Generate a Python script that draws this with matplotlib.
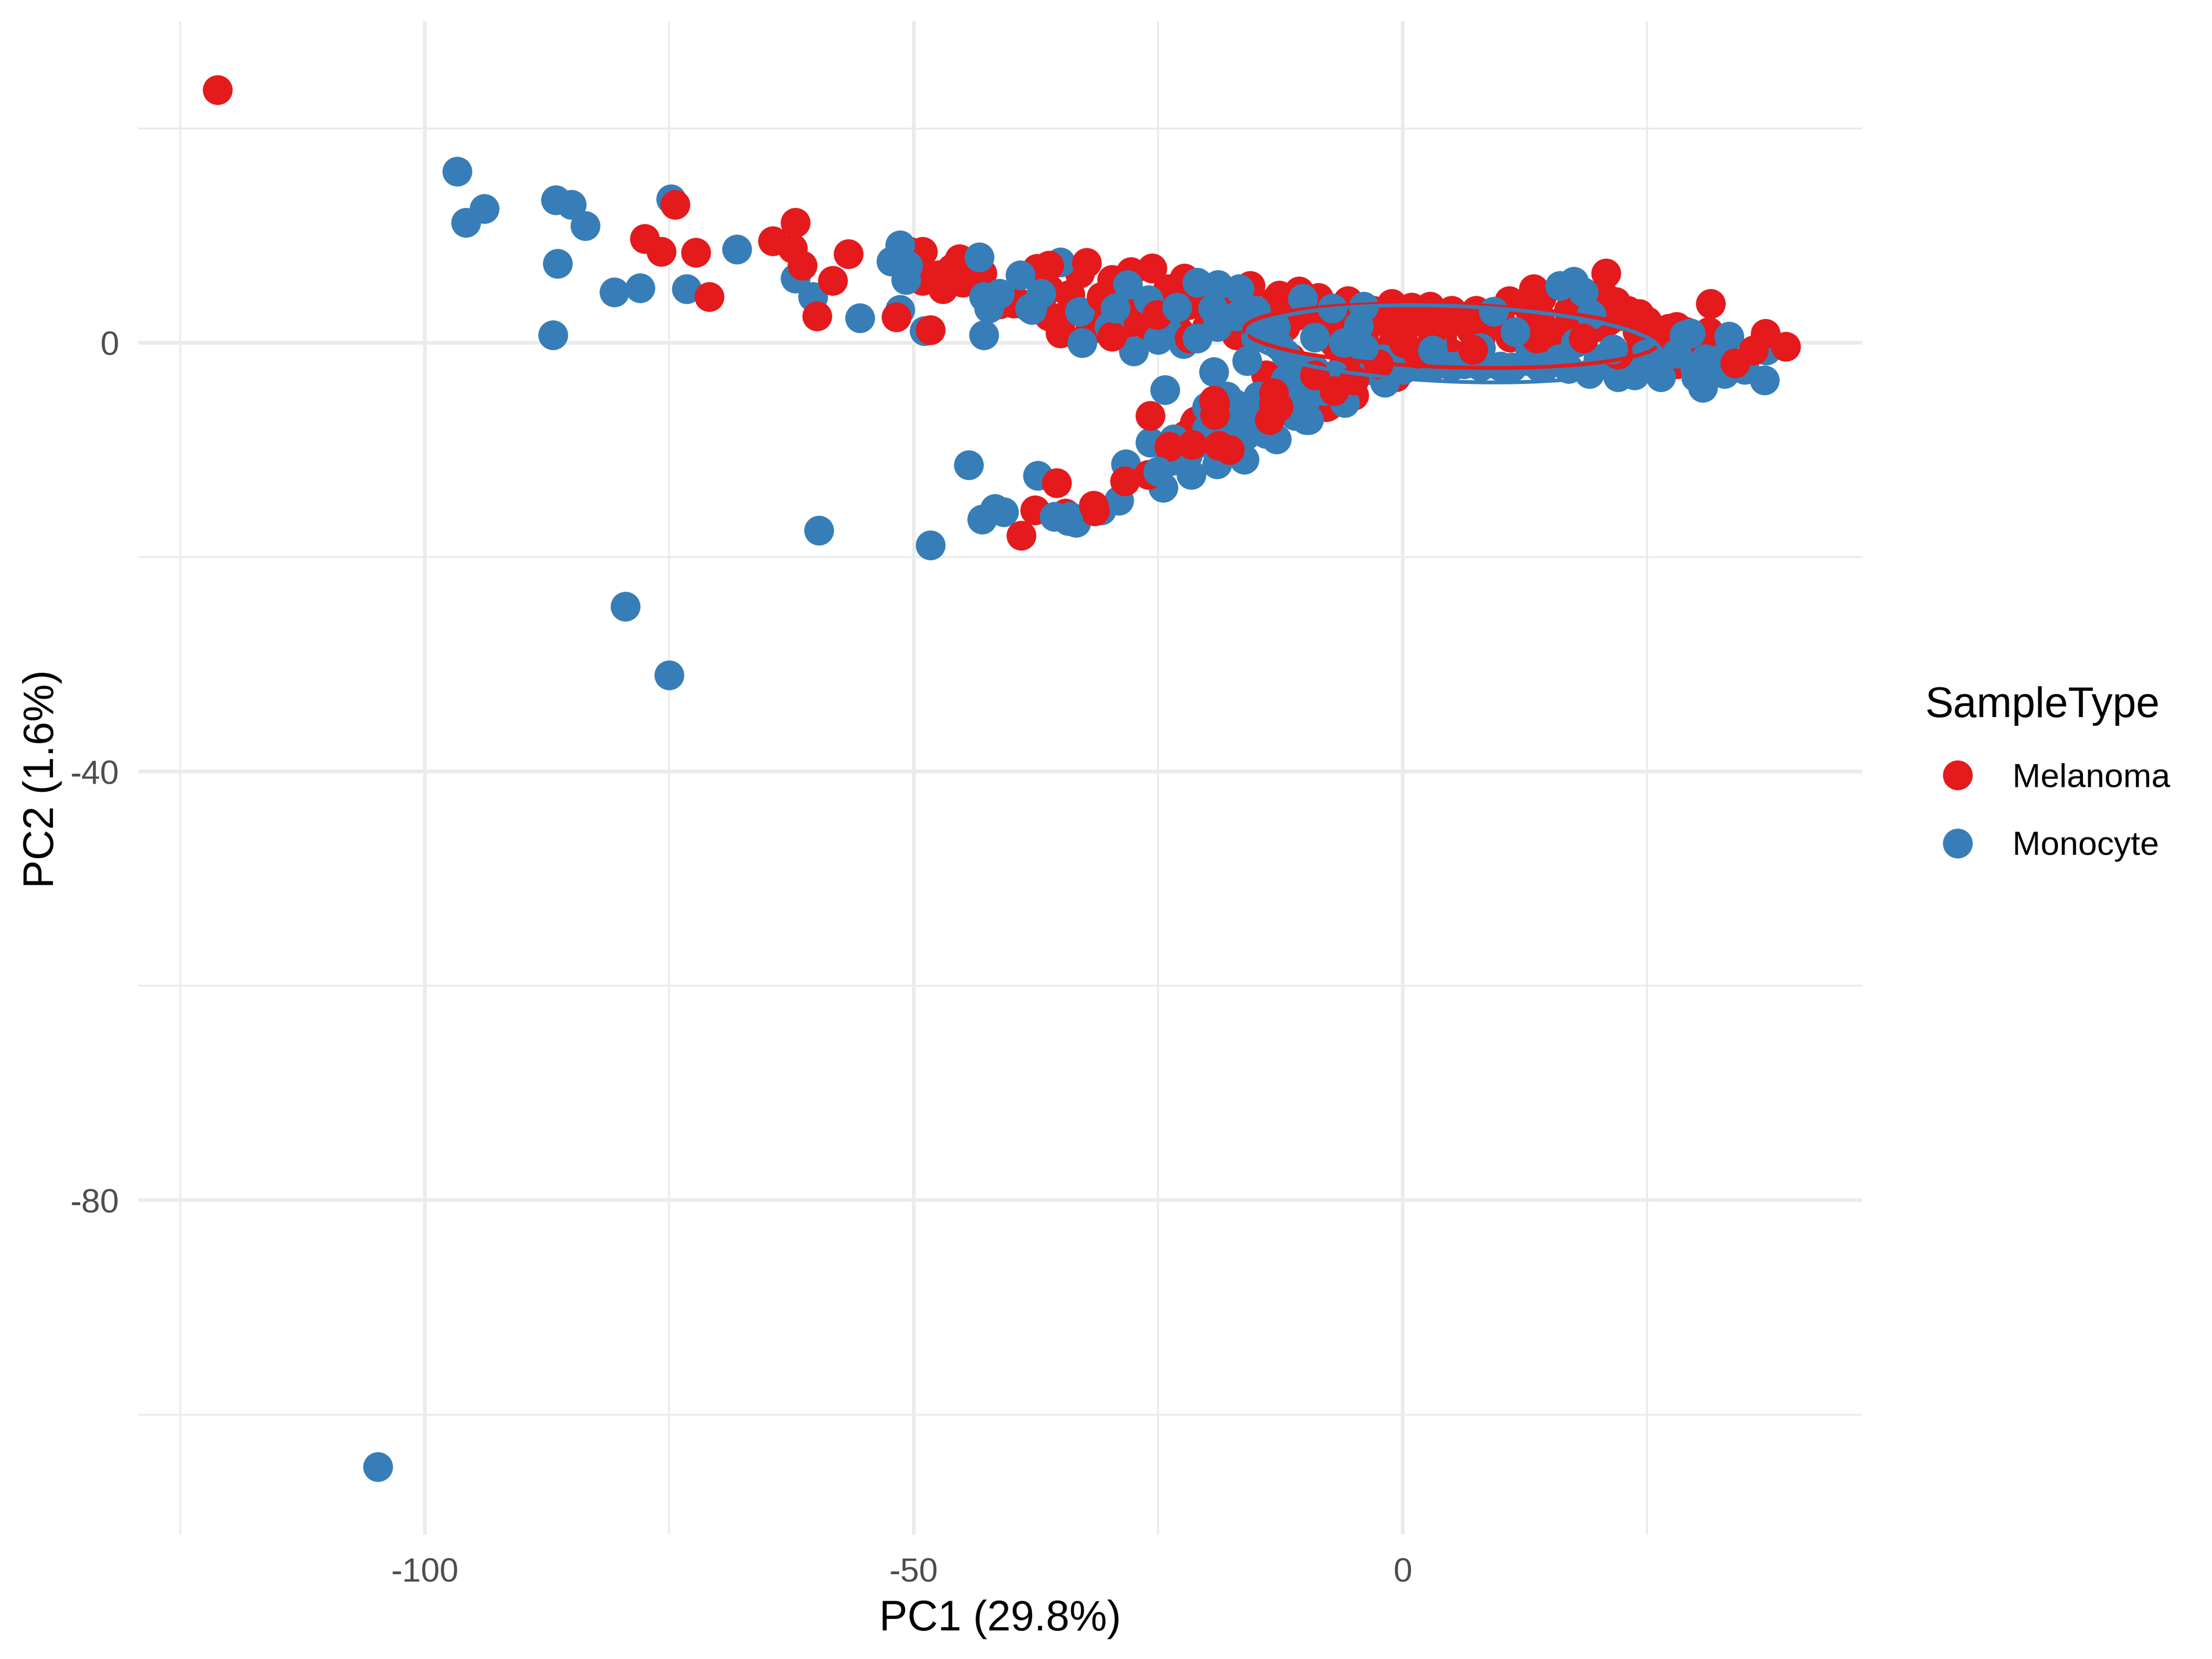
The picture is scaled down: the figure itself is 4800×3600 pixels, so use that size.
import numpy as np
import matplotlib
matplotlib.use("Agg")
import matplotlib.pyplot as plt
from matplotlib.lines import Line2D

plt.rcParams['font.family'] = ['Liberation Sans', 'DejaVu Sans']

RED = "#E41A1C"
BLUE = "#377EB8"
GRID = "#EBEBEB"

# drawing order in the original is mixed, so each group has two passes
melanoma_back = np.array([
    [-49.1,8.5],[-50.4,8.5],[-49.1,5.8],[-47.5,6.3],[-45.3,7.8],[-46.1,6.9],[-45,5.6],[-44.3,6.3],
    [-35,1.2],[-36.2,2.5],[-34,4.5],[-33,6.5],[-31,3],[-29,4.5],[-27.5,3],[-26,1.5],[-24,5],[-22,3.5],
    [-20,1.5],[-18,3],[-16,1],[-15,3],[-13,4],[-12,1.5],[-10,3],[-8,1],[-6,2.5],[-4,0.5],[-2,2],[0,1],
    [2,2],[4,0.5],[6,2],[8,0.5],[10,2],[12,1],[14,2.5],[16,1],[18,2],[20,1.5],[22,2.5],[24,1],[26,0.5],
    [28,1.5],[30,-0.5],[32,-1],[13.4,5],[14.2,4.2],[10.9,3.9],[20.4,4.6],[21.8,3.8],[24.2,2.7],[27.2,1.3],
    [31.3,1],[-1.1,3.65],[0.9,3.3],[2.8,3.4],[5,2.8],[7.5,3],[-5.6,3.9],[-8.6,4.2],[-10.6,4.8],[-12.6,4.4],
    [-15.6,5.3],[-19.4,5.2],[-21,4.6],[-22.3,6],[-27.8,6.6],[-29.7,5.9],[-11.5,-1.4],[-8.8,-2.9],[-5,-4.9],
    [-7.8,-6],[-7.6,-5.9],[-5.8,-4.9],[-2.3,-2.1],[3.1,-2.2],[-0.7,-3.2],[-6,-2],[-3,-1],[1,-1],[5,-1],[23.1,-2.1],
    [-21.3,-7.5],[-22.2,-8.6],[-21.2,-7.3],[-34.5,-15.9],[-37.6,-15.6],[-14,-3],[-17,0.7],[-35,0.9],
    [-39.2,3.7],[-41.2,3.6],[-39.8,3.7],[-37.4,6.9],[-36.2,5],
    [-34,3],[-32,1.2],[-28,1.8],[-23,1.2],[-14,2],[-16,3.5],[-11,2.5],[-9,3.5],[-7,0],[-5,1],[-3,3],[1,2.5],
    [3,1.5],[5,3],[7,1.2],[9,2.8],[11,0.5],[13,3],[15,0.2],[17,3],[19,3.5],[21,2],[23,3],[25,2],[27,0],[29,1],
    [24,-1],[26,-1.5],[28,-2],[-1,0],[-3,-1.5],[-5,-3],[-8,-4],[-10,-2.5],[-12,-2.5],[-47,5],[-43,6.5],
])
monocyte_mid = np.array([
    [-35,7.5],[-39.1,6.3],[-38.1,3.2],[-33,2.9],[-32.8,0],[-27.5,-0.8],[-25,0.3],[-22.4,-0.1],[-28.1,5.4],
    [-21,5.6],[-18.9,5.4],[-16.7,5],[-10.2,4.1],[-4,3.4],[-19.3,-2.7],[-24.3,-4.4],[-14.8,-5],[-17.2,-5.7],
    [-17.3,-5.7],[-9.9,-4.6],[-9.9,-7.2],[-5.9,-5.6],[-1.8,-3.7],[6.3,-2],[8,-2.1],[11.2,-2.3],[12.8,-1.7],
    [14.5,-2.3],[19.1,-2.9],[22,-3.2],[23.7,-3],[26.4,-3.2],[33.4,0.6],[37.2,-0.7],[37,-3.5],[30.7,-4.2],
    [29.9,-2.3],[32.9,-2.9],[17.5,5.7],[16.1,5.3],[18.5,4.7],[19.3,2.6],[17.7,0],[1.7,-2.2],[24.8,-1.1],
    [-43,-16.5],[-41.7,-15.5],[-40.8,-15.8],[-37.3,-12.4],[-35.6,-16.2],[-34,-16.2],[-33.4,-16.8],[-30.8,-15.6],
    [-29,-14.7],[-28.3,-11.3],[-25.8,-9.3],[-24.5,-13.5],[-23.4,-9],[-23.7,-11],[-21.6,-12.3],[-19,-11.3],
    [-16.2,-10.9],[-12.9,-9],[-16,-8.6],[-9.6,-7.2],[-11,-6.8],[-11.5,-4.3],[-9.9,-4.2],[-20.6,-9.3],
    [-18,-8],[-14,-7],[-20,-6],[-42.8,4.3],[-41.2,4.6],[-42.3,3.2],[-37.9,3.1],[-43.3,8],[-50.6,7.2],[-50.8,5.9],
    [-52.3,7.6],[-51.4,9.1],[-6,0],[-2,-1.5],[3,0],[8,-0.5],[13,-0.5],[16,-1.5],[-12,-1],
    [-30,1.5],[-26,4],[-24,1],[-19,1.5],[-17,2.5],[-15,0.5],[-15,3],[-11,-2],[-9,-2.5],[-7,-3],[-3,-2.6],
    [0,-2.5],[3,-2.2],[5,-2.2],[8,-2.2],[10,-2.2],[14,-2.3],[17,-2.4],[20,-1.5],[23,-2],[26,-2],[28,-1],[31,-1.5],
    [33,-1.2],[30,-3.2],[35,-2.5],[-12,-3.5],[-14,-6],[-16,-6.5],[-18,-5],[-20,-8],[-17,-9.5],[-14,-8.5],
    [-12,-5.5],[-10,-5.5],[-8,-4.5],[-22,-10.5],[-19,-9.5],[-24,-10],
    [-96.7,16],[-95.8,11.2],[-93.9,12.5],[-86.6,13.3],[-85,12.9],[-83.6,10.9],[-86.4,7.4],[-86.9,0.7],[-80.6,4.7],
    [-78,5.1],[-74.8,13.4],[-73.2,5],[-68.1,8.7],[-62.1,6],[-60.3,4.3],[-55.5,2.3],[-51.4,3.1],[-48.9,1.1],
    [-42.8,0.7],[-44.4,-11.4],[-59.7,-17.5],[-48.3,-18.9],[-79.5,-24.6],[-75,-31],[-104.8,-104.9],
])
melanoma_front = np.array([
    [-121.2,23.6],[-74.4,12.9],[-77.5,9.7],[-75.8,8.5],[-72.3,8.4],[-70.9,4.3],[-64.4,9.5],[-62.1,11.2],[-62.4,8.8],
    [-61.4,7.2],[-56.7,8.3],[-58.3,5.8],[-59.9,2.5],[-51.8,2.4],[-48.3,1.2],
    [-36.2,7.2],[-32.3,7.45],[-25.6,6.95],[-30.8,4.3],[-25.1,2.6],[-29.7,0.6],[-7.8,2.3],[-21.8,0.4],
    [20.8,6.5],[31.5,3.65],[37.1,0.85],[39.2,-0.35],[34,-1.9],[35.9,-0.7],[22,-1.1],[18.5,0.4],[13.7,0.4],[7.2,-0.65],
    [0.1,0],[2,3],[-1,1.5],[-13.2,-5.7],[-19.2,-5.7],[-25.8,-6.8],[-19.2,-6.7],[-19.3,-5.4],[-13.6,-7.2],[-12.7,-6],
    [-13.2,-4.7],[-39,-18],[-35.4,-13.1],[-31.6,-15.2],[-31.5,-15.7],[-28.4,-12.9],[-26,-12.3],[-23.9,-9.7],
    [-21.5,-9.5],[-17.7,-10],[-18.8,-9.6],[3,1],[1.5,-1],[-2.5,-2],[-7,-4.5],[-5,-3.5],[-9,-3],
])
monocyte_top = np.array([
    [-37,4.6],[-29.4,3.2],[-23.1,3.3],[-21,0.4],[-19.4,3.2],[-7.2,3.2],[-4.5,1.6],[-15.9,-1.7],[-12.6,-0.3],
    [3.1,-0.7],[28.8,0.7],[29.4,0.9],[9.3,2.9],[11.5,1],[21.5,-0.6],[-14.5,1],[-13,1.5],[-9,0.5],[-4,-0.5],
    [-25,-12],[-34.2,-16.6],
])
ellipse_centers = [(5.0, 0.65), (5.2, -0.1)]
ellipse_axes = [(21.2, 3.0), (21.2, 3.6)]
ellipse_rho = [-0.2, -0.2]
group_labels = ["Melanoma", "Monocyte"]
x_major = [-100, -50, 0]
x_minor = [-125, -75, -25, 25]
y_major = [-80, -40, 0]
y_minor = [-100, -60, -20, 20]

fig = plt.figure(figsize=(16, 12), dpi=300)
ax = fig.add_axes([300/4800, 1 - 3330/3600, (4041-300)/4800, (3330-46)/3600])

# 15pt markers, ggplot draws them with no edge
for pts, col in [(melanoma_back, RED), (monocyte_mid, BLUE), (melanoma_front, RED), (monocyte_top, BLUE)]:
    ax.scatter(pts[:,0], pts[:,1], s=15.5**2, c=col, linewidths=0, zorder=3)

t = np.linspace(0, 2*np.pi, 300)
for center, axes_len, rho, col in zip(ellipse_centers, ellipse_axes, ellipse_rho, [RED, BLUE]):
    ex = center[0] + axes_len[0]*np.cos(t)
    ey = center[1] + axes_len[1]*(rho*np.cos(t) + np.sqrt(1-rho**2)*np.sin(t))
    ax.plot(ex, ey, color=col, lw=2.0, zorder=4)

ax.set_xlim(-129.3, 47.0)
ax.set_ylim(-111.2, 30.0)
ax.set_xticks(x_major)
ax.set_xticks(x_minor, minor=True)
ax.set_yticks(y_major)
ax.set_yticks(y_minor, minor=True)
ax.grid(which="major", color=GRID, lw=1.9, zorder=0)
ax.grid(which="minor", color=GRID, lw=0.95, zorder=0)
ax.set_axisbelow(True)
ax.tick_params(which="both", length=0)
ax.tick_params(axis="both", labelsize=17.6, labelcolor="#4D4D4D")
ax.tick_params(axis="x", pad=12)
ax.tick_params(axis="y", pad=10)
ax.set_xticklabels(["-100", "-50", "0"])
ax.set_yticklabels(["-80", "-40", "0"])
for s in ax.spines.values():
    s.set_visible(False)

fig.text((300+4041)/2/4800, 1 - 3514/3600, "PC1 (29.8%)", fontsize=22, ha="center", va="center")
fig.text(92/4800, 1 - 1690/3600, "PC2 (1.6%)", fontsize=22, rotation=90, ha="center", va="center")

handles = [Line2D([], [], marker="o", ls="", ms=15.5, mew=0, color=c) for c in [RED, BLUE]]
leg = fig.legend(handles, group_labels, title="SampleType", loc="upper left",
                 bbox_to_anchor=(4178/4800, 1 - 1489/3600), frameon=False,
                 fontsize=17.6, title_fontsize=22, labelspacing=1.1,
                 handletextpad=0.68, borderaxespad=0, borderpad=0, handlelength=1.9)
leg._legend_box.align = "left"
leg.get_title().set_ha("left")

fig.savefig("out.png", dpi=300)
